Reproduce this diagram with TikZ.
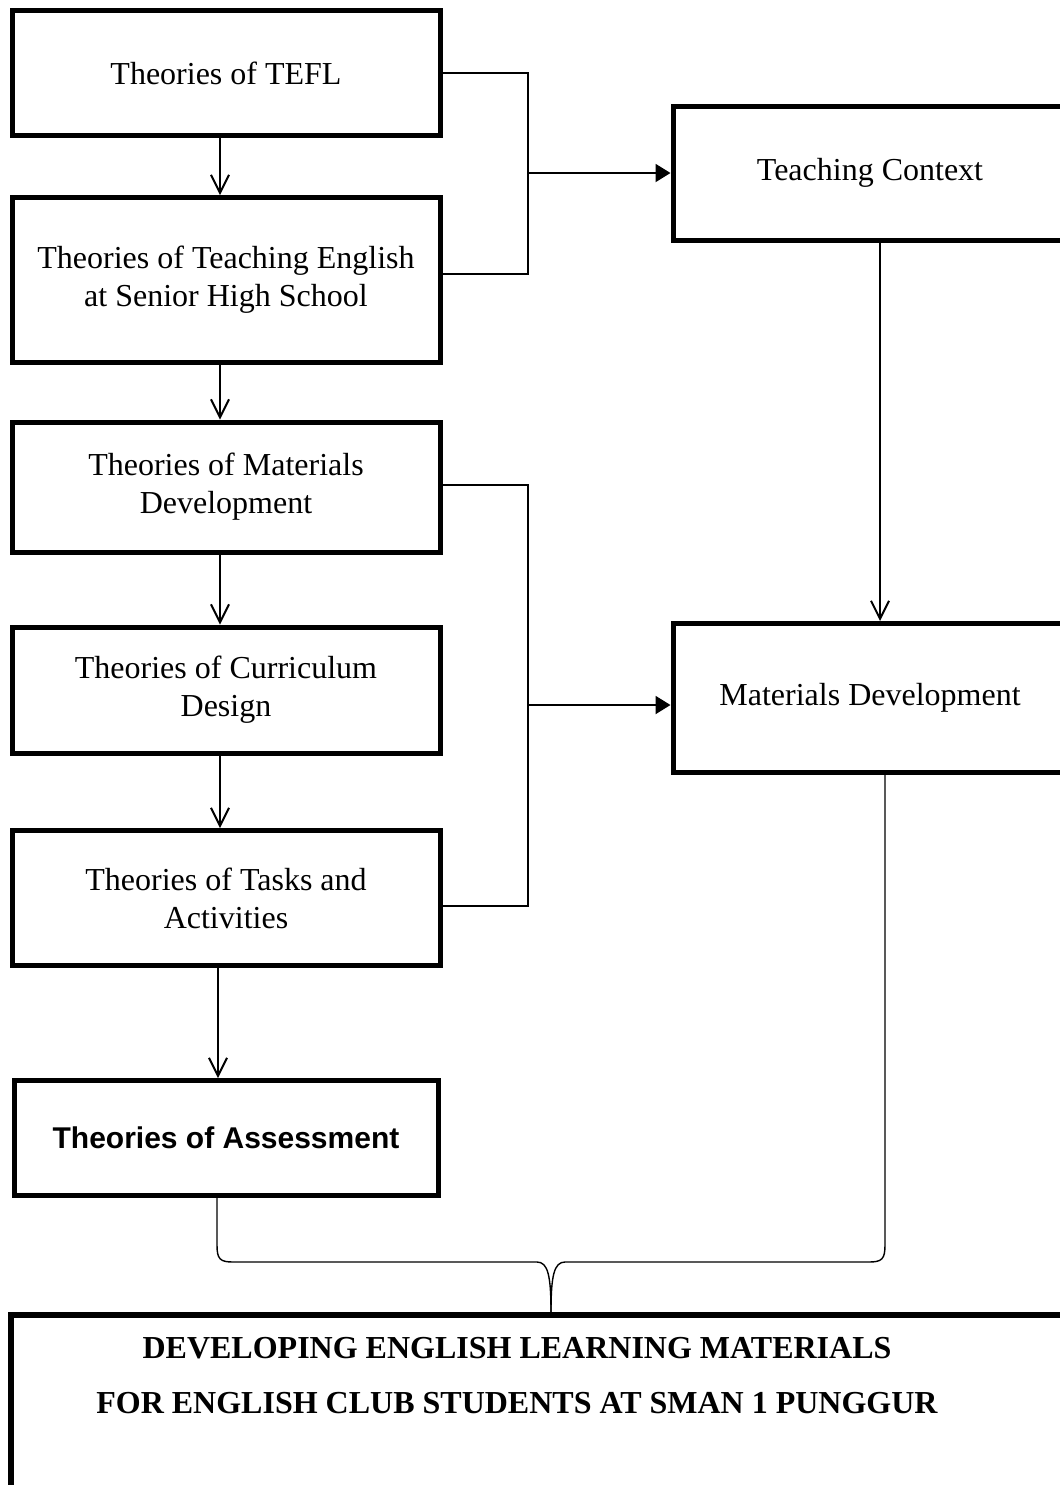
\documentclass[tikz,border=0pt]{standalone}
\usepackage{fontspec}
\setmainfont{Liberation Serif}
\newfontfamily\headsans{Liberation Sans}
\usetikzlibrary{arrows.meta}

\begin{document}
\begin{tikzpicture}[x=0.5pt,y=-0.5pt,
  box/.style={draw, line width=2.5pt, inner sep=0pt, align=center,
    font=\fontsize{16}{19}\selectfont},
  theory/.style={box, minimum width=214pt},
  outcome/.style={box, minimum width=197pt},
  link/.style={line width=1pt},
  down/.style={link, -{Straight Barb[length=9pt,width=9pt]}},
  feed/.style={link, -{Triangle[length=7.5pt,width=9pt]}},
  brace/.style={line width=0.7pt},
  title/.style={font=\fontsize{16}{19}\selectfont\bfseries, inner sep=0pt}]
\useasboundingbox (0,0) rectangle (1060,1485);
\clip (0,0) rectangle (1060,1485);

% left column of theories
\node[theory, minimum height=62.5pt] (tefl) at (226,73) {Theories of TEFL};
\node[theory, minimum height=82.5pt] (shs) at (226,280) {Theories of Teaching English\\at Senior High School};
\node[theory, minimum height=65pt] (mdt) at (226,487) {Theories of Materials\\Development};
\node[theory, minimum height=63pt] (cur) at (226,690) {Theories of Curriculum\\Design};
\node[theory, minimum height=67.5pt] (tasks) at (226,898) {Theories of Tasks and\\Activities};
\node[theory, minimum width=212pt, minimum height=57.5pt,
  font=\headsans\fontsize{15}{18}\selectfont\bfseries] (assess) at (226,1138) {Theories of Assessment};

% right column
\node[outcome, minimum height=67pt] (context) at (870,173) {Teaching Context};
\node[outcome, minimum height=74.5pt] (matdev) at (870,698) {Materials Development};

% final outcome box
\node[draw, line width=3pt, inner sep=0pt, minimum width=540pt, minimum height=100pt,
  anchor=north west] (goal) at (8,1312) {};
\node[title] (goalA) at (517,1348) {DEVELOPING ENGLISH LEARNING MATERIALS};
\node[title] (goalB) at (517,1403) {FOR ENGLISH CLUB STUDENTS AT SMAN 1 PUNGGUR};

% vertical flow
\draw[down] ([xshift=-3pt]tefl.south) -- ([xshift=-3pt]shs.north);
\draw[down] ([xshift=-3pt]shs.south) -- ([xshift=-3pt]mdt.north);
\draw[down] ([xshift=-3pt]mdt.south) -- ([xshift=-3pt]cur.north);
\draw[down] ([xshift=-3pt]cur.south) -- ([xshift=-3pt]tasks.north);
\draw[down] ([xshift=-4pt]tasks.south) -- ([xshift=-4pt]assess.north);
\draw[down] ([xshift=5pt]context.south) -- ([xshift=5pt]matdev.north);

% bracket joining the first two theories
\coordinate (j1) at (528,173);
\draw[link] (tefl.east) -| (j1) |- ([yshift=3pt]shs.east);
\draw[feed] (j1) -- (j1 -| context.west);

% bracket joining materials, curriculum and tasks theories
\coordinate (j2) at (528,705);
\draw[link] ([yshift=1pt]mdt.east) -| (j2) |- ([yshift=-4pt]tasks.east);
\draw[feed] (j2) -- (j2 -| matdev.west);

% curly brace into the outcome
\coordinate (tip) at (551,1312);
\draw[brace] ([xshift=-4.5pt]assess.south) -- (217,1245)
  .. controls (217,1259) and (220,1262) .. (233,1262) -- (537,1262)
  .. controls (548,1262) and (551,1276) .. (tip);
\draw[brace] ([xshift=7.5pt]matdev.south) -- (885,1245)
  .. controls (885,1259) and (882,1262) .. (869,1262) -- (565,1262)
  .. controls (554,1262) and (551,1276) .. (tip);
\end{tikzpicture}
\end{document}
